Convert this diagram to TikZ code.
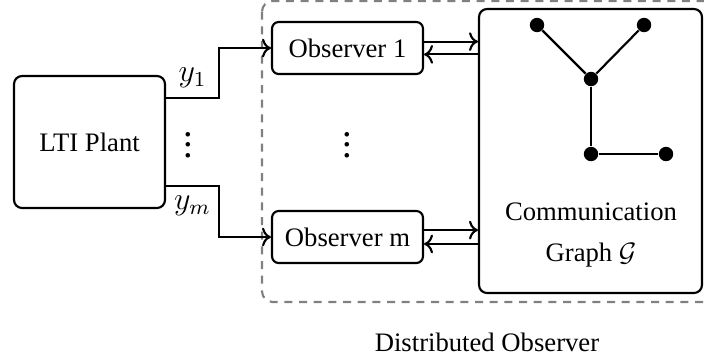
\documentclass[tikz,border=0pt]{standalone}
\usepackage{fontspec}
\setmainfont{Liberation Serif}
\usepackage{tikz}
\usetikzlibrary{arrows.meta, positioning}
\usepackage{amsmath}

\begin{document}
\begin{tikzpicture}[x=0.375pt, y=-0.375pt]
        % --- estilos ---
        \tikzstyle{block} = [
            rectangle,
            rounded corners=3pt,
            thick,
            draw=black,
            align=center
        ]
        \tikzstyle{obsbox} = [block, rounded corners=2.5pt, minimum width=56.6pt, minimum height=19.5pt]
        \tikzstyle{vertex} = [circle, fill=black, inner sep=0pt, minimum size=5.4pt]
        \tikzstyle{arrow} = [thick, ->]
        \tikzstyle{edge} = [thick]
        \tikzstyle{region} = [thick, draw=gray, dash pattern=on 3pt off 2.5pt, rounded corners=4pt]
        \tikzstyle{dotsnode} = [font=\Large, inner sep=0pt]

        \useasboundingbox (0,0) rectangle (704,358);

        % --- regiao do observador distribuido ---
        \draw [region] (262,1) rectangle (730,302);
        \node (dist) at (487,342) {Distributed Observer};

        % --- nos ---
        \node (plant) [block, minimum width=56.6pt, minimum height=49.5pt] at (89.5,142) {LTI Plant};
        \node (obs1) [obsbox] at (347.5,48) {Observer 1};
        \node (obsm) [obsbox] at (347.5,237) {Observer m};
        \node (graph) [block, minimum width=83.6pt, minimum height=106.5pt] at (590.5,151) {};
        \node (comm) at (591,212) {Communication};
        \node (gname) at (591,255) {Graph $\mathcal{G}$};
        \node (dots1) [dotsnode] at (188,137) {$\vdots$};
        \node (dots2) [dotsnode] at (347,137) {$\vdots$};

        % --- grafo ---
        \node (g1) [vertex] at (537,25) {};
        \node (g2) [vertex] at (644,25) {};
        \node (g3) [vertex] at (591,79) {};
        \node (g4) [vertex] at (591,154) {};
        \node (g5) [vertex] at (666,154) {};
        \draw [edge] (g1) -- (g3);
        \draw [edge] (g2) -- (g3);
        \draw [edge] (g3) -- (g4);
        \draw [edge] (g4) -- (g5);

        % --- conexoes ---
        \draw [arrow] ([yshift=16.5pt]plant.east) -- node[above, font=\large] {$y_1$} ++(53,0) |- (obs1.west);
        \draw [arrow] ([yshift=-16.5pt]plant.east) -- node[below, font=\large] {$y_m$} ++(53,0) |- (obsm.west);
        \draw [arrow] ([yshift=2.4pt]obs1.east) -- ([yshift=2.4pt]obs1.east -| graph.west);
        \draw [arrow] ([yshift=-2.4pt]obs1.east -| graph.west) -- ([yshift=-2.4pt]obs1.east);
        \draw [arrow] ([yshift=2.6pt]obsm.east) -- ([yshift=2.6pt]obsm.east -| graph.west);
        \draw [arrow] ([yshift=-2.6pt]obsm.east -| graph.west) -- ([yshift=-2.6pt]obsm.east);
    \end{tikzpicture}
\end{document}
